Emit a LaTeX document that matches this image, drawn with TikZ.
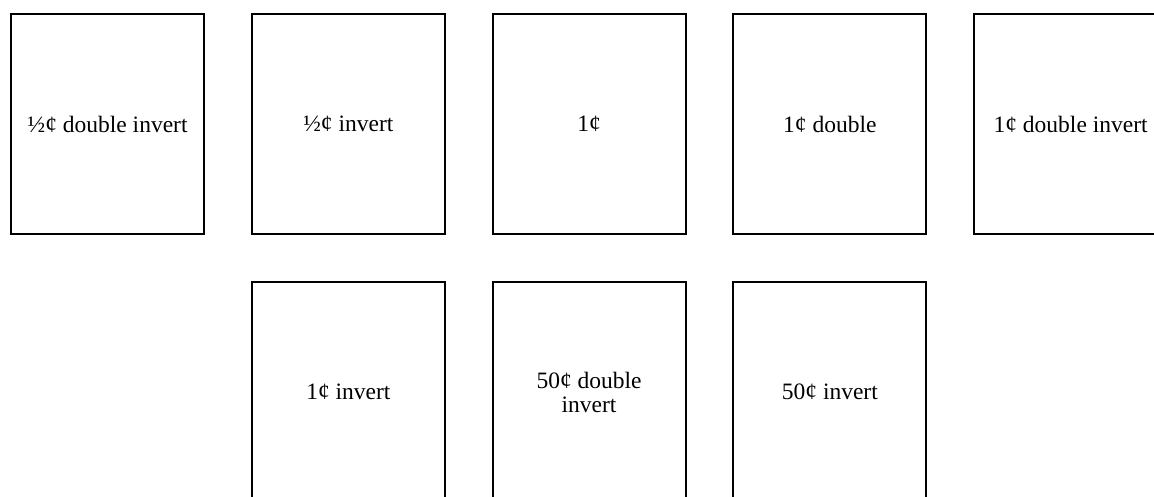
\documentclass[tikz,border=0pt]{standalone}
\usepackage{fontspec}
\setmainfont{Liberation Serif}
\begin{document}
\begin{tikzpicture}[x=1pt,y=-1pt,
  card/.style={draw=black,line width=2.2pt,minimum width=193pt,minimum height=220pt,inner sep=0pt,anchor=north west,align=center,font=\fontsize{23.5}{24}\selectfont}]
\useasboundingbox (0,0) rectangle (1154,496);
\clip (0,0) rectangle (1154,496);
\node[card] (a) at (10,13) {½¢ double invert};
\node[card] (b) at (250.75,13) {½¢ invert};
\node[card] (c) at (491.5,13) {1¢};
\node[card] (d) at (732.25,13) {1¢ double};
\node[card] (e) at (973,13) {1¢ double invert};
\node[card] (f) at (250.75,281) {1¢ invert};
\node[card] (g) at (491.5,281) {50¢ double\\invert};
\node[card] (h) at (732.25,281) {50¢ invert};
\end{tikzpicture}
\end{document}
